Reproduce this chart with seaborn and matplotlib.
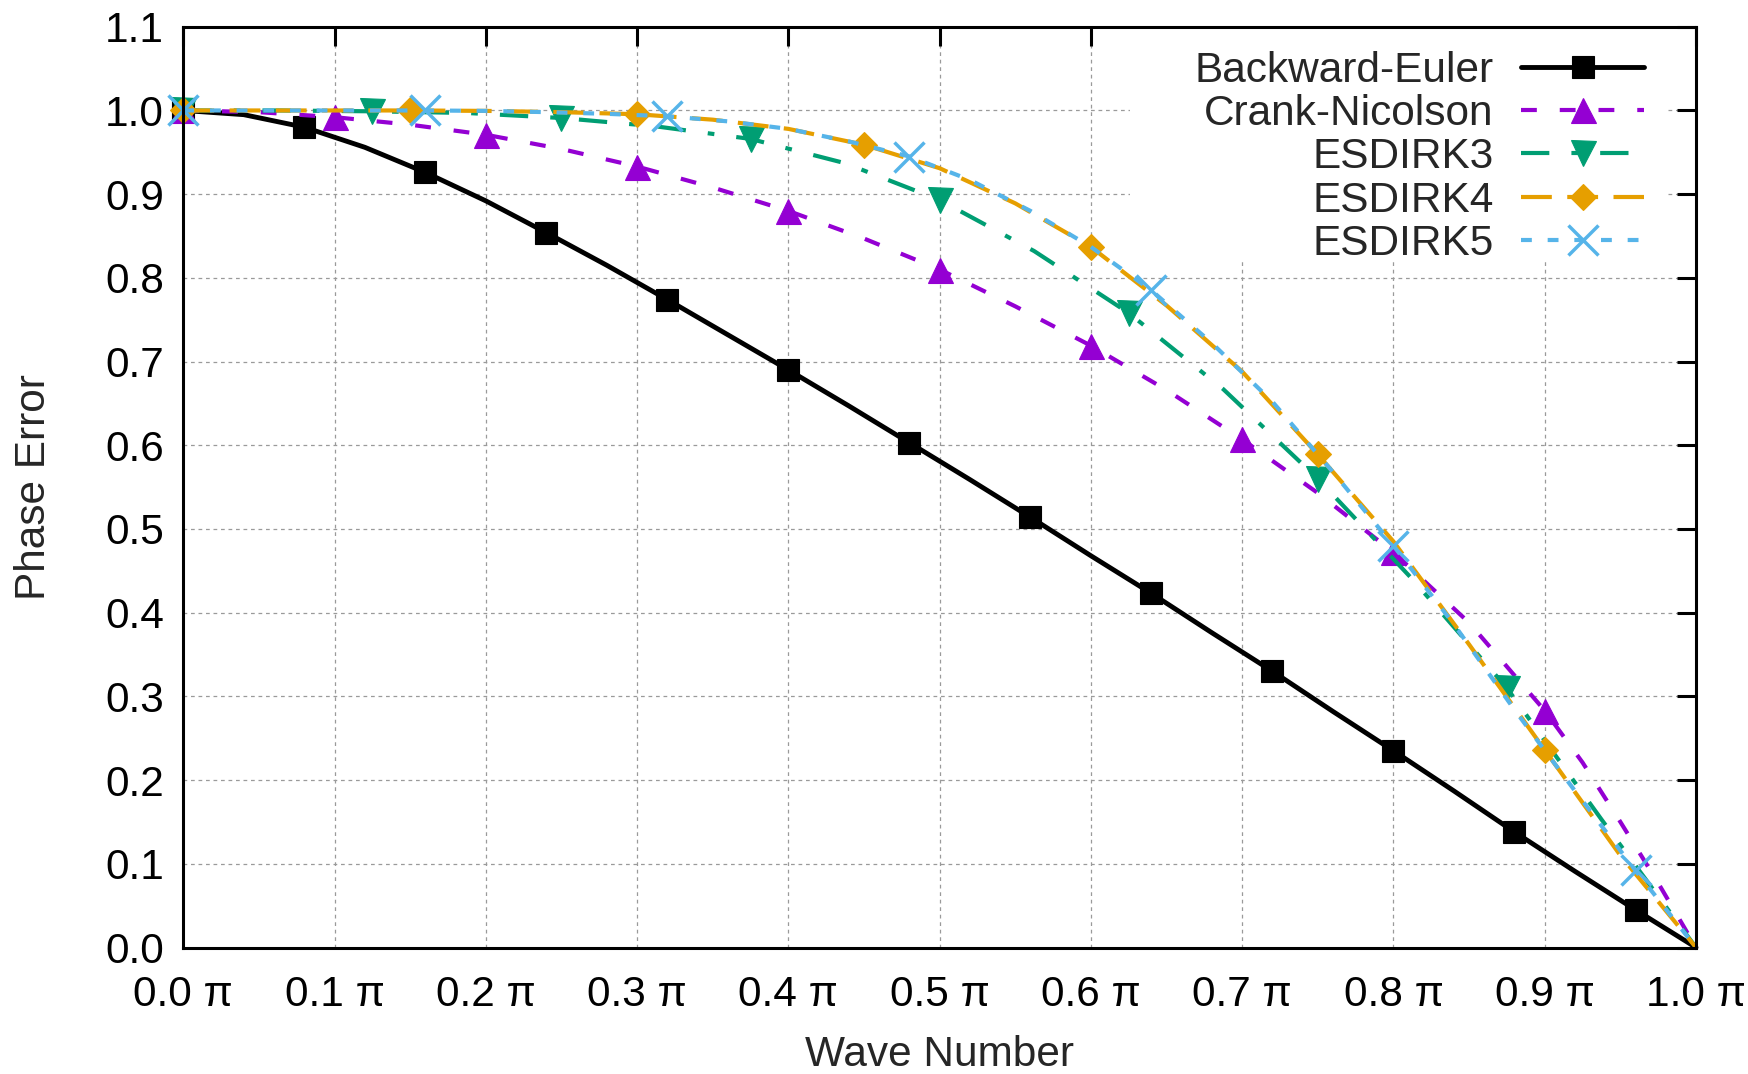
import matplotlib
matplotlib.use("Agg")
import matplotlib.pyplot as plt
from matplotlib.patches import Rectangle
import numpy as np
import pandas as pd
import seaborn as sns

# ---------------- data (wave number in units of pi, phase error) ----------------
series_names = ["Backward-Euler", "Crank-Nicolson", "ESDIRK3", "ESDIRK4", "ESDIRK5"]

be_k = [0.00, 0.04, 0.08, 0.12, 0.16, 0.20, 0.24, 0.28, 0.32, 0.36, 0.40, 0.44, 0.48,
        0.52, 0.56, 0.60, 0.64, 0.68, 0.72, 0.76, 0.80, 0.84, 0.88, 0.92, 0.96, 1.00]
be_phase = [1.000, 0.995, 0.980, 0.956, 0.926, 0.892, 0.854, 0.815, 0.774, 0.732, 0.690, 0.647, 0.603,
            0.559, 0.514, 0.468, 0.423, 0.376, 0.330, 0.282, 0.235, 0.187, 0.138, 0.091, 0.045, 0.000]

cn_k = [0.00, 0.05, 0.10, 0.15, 0.20, 0.25, 0.30, 0.35, 0.40, 0.45, 0.50, 0.55, 0.60,
        0.65, 0.70, 0.75, 0.80, 0.85, 0.90, 0.925, 0.95, 0.975, 1.00]
cn_phase = [1.000, 0.998, 0.992, 0.983, 0.971, 0.954, 0.933, 0.908, 0.880, 0.847, 0.810, 0.766, 0.719,
            0.666, 0.607, 0.543, 0.472, 0.388, 0.283, 0.221, 0.150, 0.077, 0.000]

e3_k = [0.0, 0.0625, 0.125, 0.1875, 0.25, 0.3125, 0.375, 0.4375, 0.5, 0.5625, 0.625,
        0.6875, 0.75, 0.8125, 0.875, 0.9375, 1.0]
e3_phase = [1.000, 1.000, 0.999, 0.997, 0.991, 0.981, 0.966, 0.937, 0.893, 0.832, 0.758,
            0.667, 0.560, 0.440, 0.310, 0.153, 0.000]

e4_k = [0.00, 0.05, 0.10, 0.15, 0.20, 0.25, 0.30, 0.35, 0.40, 0.45, 0.50, 0.55, 0.60,
        0.65, 0.70, 0.75, 0.80, 0.85, 0.90, 0.95, 1.00]
e4_phase = [1.000, 1.000, 1.000, 1.000, 0.9995, 0.998, 0.9955, 0.989, 0.978, 0.959, 0.931, 0.889, 0.837,
            0.767, 0.688, 0.589, 0.485, 0.362, 0.236, 0.110, 0.000]

e5_k = [0.00, 0.04, 0.08, 0.12, 0.16, 0.20, 0.24, 0.28, 0.32, 0.36, 0.40, 0.44, 0.48,
        0.52, 0.56, 0.60, 0.64, 0.68, 0.72, 0.76, 0.80, 0.84, 0.88, 0.92, 0.96, 1.00]
e5_phase = [1.000, 1.000, 1.000, 1.000, 1.000, 0.9995, 0.998, 0.996, 0.993, 0.987, 0.978, 0.963, 0.945,
            0.917, 0.880, 0.837, 0.785, 0.722, 0.652, 0.568, 0.480, 0.386, 0.284, 0.187, 0.092, 0.000]

x_ticks = [0.0, 0.1, 0.2, 0.3, 0.4, 0.5, 0.6, 0.7, 0.8, 0.9, 1.0]
x_tick_labels = ["0.0 π", "0.1 π", "0.2 π", "0.3 π", "0.4 π", "0.5 π",
                 "0.6 π", "0.7 π", "0.8 π", "0.9 π", "1.0 π"]
y_ticks = [0.0, 0.1, 0.2, 0.3, 0.4, 0.5, 0.6, 0.7, 0.8, 0.9, 1.0, 1.1]
y_tick_labels = ["0.0", "0.1", "0.2", "0.3", "0.4", "0.5", "0.6", "0.7", "0.8", "0.9", "1.0", "1.1"]

# ---------------- style ----------------
sns.set_theme(style="white")
plt.rcParams["font.family"] = ["Liberation Sans", "DejaVu Sans"]
FS = 30.5

fig = plt.figure(figsize=(17.48, 10.74), dpi=100)
ax = fig.add_axes([0.10486, 0.11778, 0.8654, 0.8573])

styles = [
    dict(color="#000000", linestyle="-", marker="s", markersize=16.5, lw=3.5, markevery=2),
    dict(color="#9400D3", linestyle=(0, (3.8, 5.5)), marker="^", markersize=18, lw=3.0,
         markevery=list(range(0, 19, 2))),
    dict(color="#009E73", linestyle=(0, (6.8, 5.3, 1.6, 5.3)), marker="v", markersize=18, lw=3.0,
         markevery=list(range(0, 15, 2))),
    dict(color="#E69F00", linestyle=(0, (7.4, 3.7)), marker="D", markersize=13.2, lw=3.0, markevery=3),
    dict(color="#56B4E9", linestyle=(0, (2.6, 3.8)), marker="x", markersize=22, lw=3.0, markevery=4),
]
xs = [be_k, cn_k, e3_k, e4_k, e5_k]
ys = [be_phase, cn_phase, e3_phase, e4_phase, e5_phase]

for name, xv, yv, st in zip(series_names, xs, ys, styles):
    df = pd.DataFrame({"k": xv, "phase": yv})
    mew = 2.5 if st["marker"] == "x" else 0.8
    sns.lineplot(data=df, x="k", y="phase", ax=ax, estimator=None, errorbar=None,
                 legend=False, label=name, color=st["color"], linestyle=st["linestyle"],
                 linewidth=st["lw"], marker=st["marker"], markersize=st["markersize"],
                 markevery=st["markevery"], markeredgecolor=st["color"],
                 markerfacecolor=st["color"], markeredgewidth=mew, clip_on=False)

ax.set_xlim(0, 1.0)
ax.set_ylim(0, 1.1)
ax.set_xticks(x_ticks)
ax.set_xticklabels(x_tick_labels)
ax.set_yticks(y_ticks)
ax.set_yticklabels(y_tick_labels)
ax.tick_params(axis="both", which="major", direction="in", length=14, width=2.2,
               top=True, right=True, labelsize=FS, colors="black")
ax.tick_params(axis="x", pad=19.5)
ax.tick_params(axis="y", pad=14)
for sp in ax.spines.values():
    sp.set_linewidth(2.2)
    sp.set_color("black")
    sp.set_zorder(5)

ax.grid(True, color="#9a9a9a", linestyle=(0, (3, 3)), linewidth=0.9)
ax.set_axisbelow(True)

# opaque key area (gnuplot-style key box hides the grid behind it)
ax.add_patch(Rectangle((0.626, 0.7446), 0.3535, 0.2554, transform=ax.transAxes,
                       facecolor="white", edgecolor="none", zorder=1))

ax.set_xlabel("Wave Number", fontsize=FS)
ax.set_ylabel("Phase Error", fontsize=FS)
ax.xaxis.set_label_coords(0.5002, -0.1172)
ax.xaxis.label.set_va("center")
ax.yaxis.set_label_coords(-0.0985, 0.5002)
ax.yaxis.label.set_va("center")
ax.yaxis.label.set_ha("center")

handles, labels = ax.get_legend_handles_labels()
leg = ax.legend(handles, labels, loc="upper right", bbox_to_anchor=(0.974, 0.988),
                markerfirst=False, fontsize=FS, handlelength=2.9, handletextpad=0.65,
                labelspacing=0.08, borderpad=0.3, frameon=False, borderaxespad=0)

fig.savefig("out.png", dpi=100)
